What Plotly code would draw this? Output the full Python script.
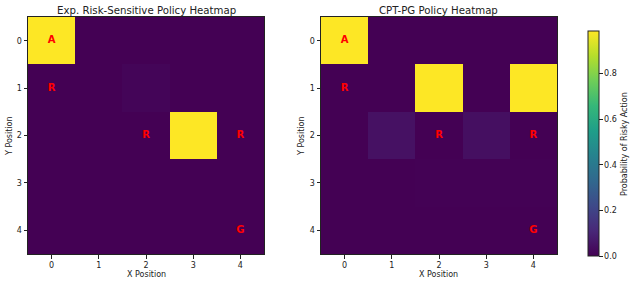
import plotly.graph_objects as go

x_labels = [0, 1, 2, 3, 4]
y_labels = [0, 1, 2, 3, 4]

exp_policy = [
    [0.986, 0.0, 0.0, 0.0, 0.0],
    [0.0, 0.0, 0.012, 0.0, 0.0],
    [0.0, 0.0, 0.0, 0.986, 0.0],
    [0.0, 0.0, 0.0, 0.0, 0.0],
    [0.0, 0.0, 0.0, 0.0, 0.0],
]

cpt_policy = [
    [0.986, 0.0, 0.0, 0.0, 0.0],
    [0.0, 0.0, 0.986, 0.0, 0.986],
    [0.0, 0.045, 0.0, 0.04, 0.0],
    [0.0, 0.0, 0.004, 0.004, 0.004],
    [0.0, 0.0, 0.0, 0.0, 0.0],
]

cell_label_x = [0, 0, 2, 4, 4]
cell_label_y = [0, 1, 2, 2, 4]
cell_label_text = ["A", "R", "R", "R", "G"]

titles = ["Exp. Risk-Sensitive Policy Heatmap", "CPT-PG Policy Heatmap"]
cbar_ticks = [0.0, 0.2, 0.4, 0.6, 0.8]

W, H = 635, 285
FONT = "DejaVu Sans"

fig = go.Figure()
for i, z in enumerate([exp_policy, cpt_policy]):
    xa = "x" if i == 0 else "x2"
    ya = "y" if i == 0 else "y2"
    fig.add_trace(go.Heatmap(z=z, x=x_labels, y=y_labels, coloraxis="coloraxis",
                             xaxis=xa, yaxis=ya, hoverinfo="skip"))
    fig.add_trace(go.Scatter(x=cell_label_x, y=cell_label_y, text=cell_label_text,
                             mode="text", xaxis=xa, yaxis=ya, showlegend=False,
                             textfont=dict(color="red", size=10, family=FONT, weight="bold"),
                             hoverinfo="skip"))

left1, right1 = 28 / W, 264 / W
left2, right2 = 321 / W, 557 / W
bottom, top = 1 - 254 / H, 1 - 17 / H

axis_common = dict(range=[-0.5, 4.5], tickmode="array", tickvals=x_labels,
                   showline=True, mirror=True, linecolor="#222222", linewidth=1,
                   ticks="outside", ticklen=3.5, tickcolor="#222222", tickwidth=0.8,
                   showgrid=False, zeroline=False, automargin=False,
                   tickfont=dict(size=8, family=FONT, color="#222222"))
yaxis_common = dict(axis_common)
yaxis_common["range"] = [4.5, -0.5]

def txt(text, x, y, size, angle=0):
    return dict(text=text, x=x / W, y=1 - y / H, xref="paper", yref="paper",
                showarrow=False, textangle=angle, xanchor="center", yanchor="middle",
                font=dict(size=size, family=FONT, color="#222222"))

fig.update_layout(
    width=W, height=H,
    margin=dict(l=0, r=0, t=0, b=0, autoexpand=False),
    paper_bgcolor="white", plot_bgcolor="white",
    font=dict(family=FONT, color="#222222"),
    showlegend=False,
    xaxis=dict(axis_common, domain=[left1, right1], anchor="y"),
    yaxis=dict(yaxis_common, domain=[bottom, top], anchor="x"),
    xaxis2=dict(axis_common, domain=[left2, right2], anchor="y2"),
    yaxis2=dict(yaxis_common, domain=[bottom, top], anchor="x2"),
    coloraxis=dict(
        colorscale="Viridis", cmin=0, cmax=0.986,
        colorbar=dict(
            x=588 / W, xanchor="left", xpad=0, ypad=0, y=(H - 256) / H, yanchor="bottom",
            len=224.5 / H, lenmode="fraction", thickness=11, thicknessmode="pixels",
            outlinewidth=1, outlinecolor="#222222",
            tickmode="array", tickvals=cbar_ticks, ticktext=["0.0", "0.2", "0.4", "0.6", "0.8"],
            ticks="outside", ticklen=3.5, tickcolor="#222222",
            tickfont=dict(size=8, family=FONT, color="#222222"),
        ),
    ),
    annotations=[
        txt(titles[0], (28 + 264) / 2, 10, 10.2),
        txt(titles[1], (321 + 557) / 2, 10, 10.2),
        txt("X Position", (28 + 264) / 2, 274, 8),
        txt("X Position", (321 + 557) / 2, 274, 8),
        txt("Y Position", 10, 136, 8, -90),
        txt("Y Position", 302, 136, 8, -90),
        txt("Probability of Risky Action", 624, 144, 8, -90),
    ],
)

fig.write_html("out.html", config={"displayModeBar": False},
               post_script="document.body.style.margin='0';document.body.style.overflow='hidden';")
